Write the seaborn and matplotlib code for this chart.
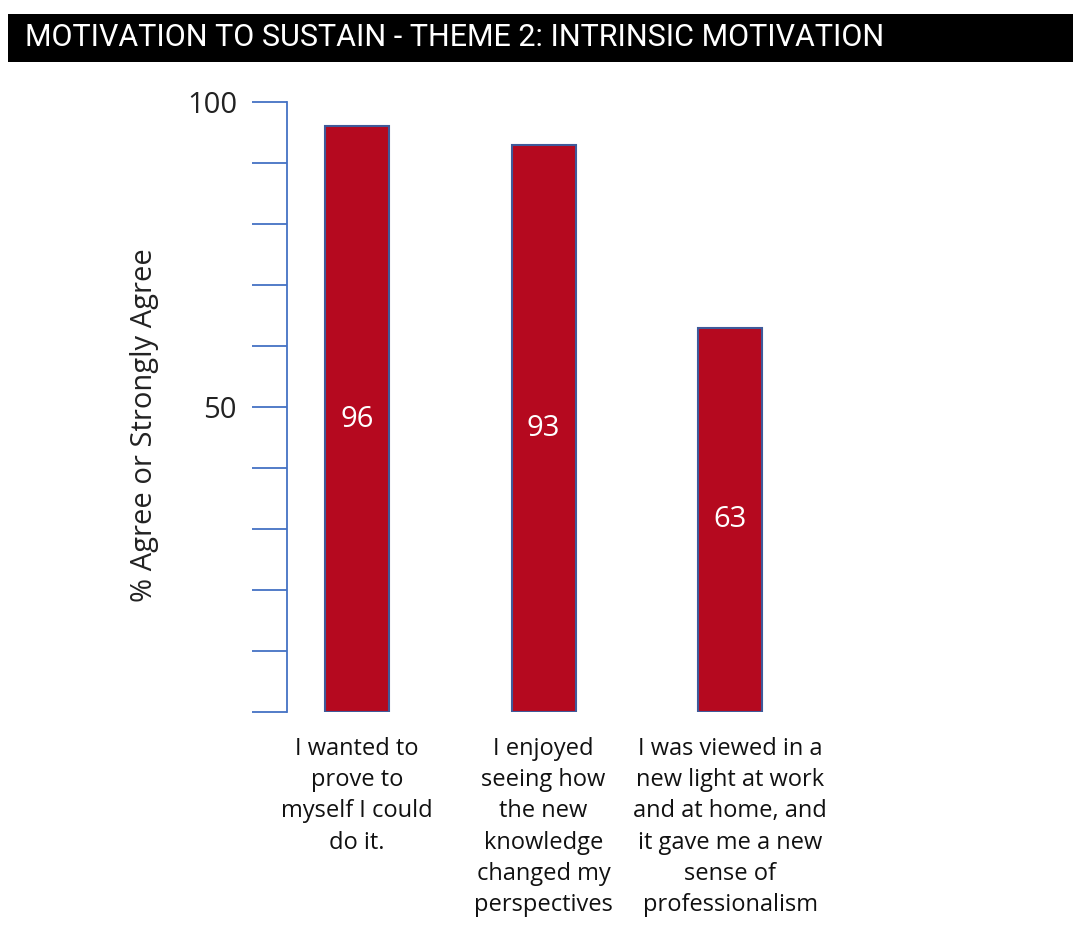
import matplotlib
matplotlib.use("Agg")
import matplotlib.pyplot as plt
import seaborn as sns
import pandas as pd
from matplotlib.patches import Rectangle

# Survey statements and share agreeing
statements = [
    "I wanted to\nprove to\nmyself I could\ndo it.",
    "I enjoyed\nseeing how\nthe new\nknowledge\nchanged my\nperspectives",
    "I was viewed in a\nnew light at work\nand at home, and\nit gave me a new\nsense of\nprofessionalism",
]
agree_pct = [96, 93, 63]
y_ticks = list(range(0, 101, 10))
y_tick_labels = ["" if t not in (50, 100) else str(t) for t in y_ticks]

title_text = "MOTIVATION TO SUSTAIN - THEME 2: INTRINSIC MOTIVATION"
y_label = "% Agree or Strongly Agree"

sns.set_theme(style="white")
plt.rcParams["font.family"] = ["Open Sans", "DejaVu Sans"]

BAR_RED = "#B5091F"
BAR_EDGE = "#3F5A9A"
AXIS_BLUE = "#4472C4"

fig = plt.figure(figsize=(10.8, 9.32), dpi=100)

# Black title banner
fig.patches.append(Rectangle((8 / 1080, 1 - 62 / 932), 1065 / 1080, 48 / 932,
                             transform=fig.transFigure, facecolor="black",
                             edgecolor="none"))
fig.text(25 / 1080, 1 - 38 / 932, title_text, color="white", fontsize=22,
         va="center", ha="left", family=["Roboto", "DejaVu Sans"])

ax = fig.add_axes([287 / 1080, 1 - 712 / 932, 555 / 1080, 610 / 932])

df = pd.DataFrame({"statement": statements, "pct": agree_pct})
sns.barplot(data=df, x="statement", y="pct", color=BAR_RED, width=0.343,
            saturation=1, edgecolor=BAR_EDGE, linewidth=1.5, ax=ax)

for container in ax.containers:
    ax.bar_label(container, labels=[str(v) for v in agree_pct],
                 label_type="center", color="white", fontsize=21)

ax.set_xlim(-0.375, 2.6)
ax.set_ylim(0, 100)
ax.set_yticks(y_ticks)
ax.set_yticklabels(y_tick_labels, fontsize=21, color="#222222")
ax.tick_params(axis="y", length=25, width=1.3, color=AXIS_BLUE, pad=11, left=True)
ax.tick_params(axis="x", length=0, pad=18, labelsize=17, labelcolor="#111111")
for lbl in ax.get_xticklabels():
    lbl.set_linespacing(1.4)
    lbl.set_va("top")

for side in ("top", "right", "bottom"):
    ax.spines[side].set_visible(False)
ax.spines["left"].set_color(AXIS_BLUE)
ax.spines["left"].set_linewidth(1.3)

ax.set_xlabel("")
ax.set_ylabel(y_label, fontsize=21, color="#222222")
ax.yaxis.set_label_coords(-128 / 555, 0.47)

fig.savefig("out.png", dpi=100, facecolor="white")
